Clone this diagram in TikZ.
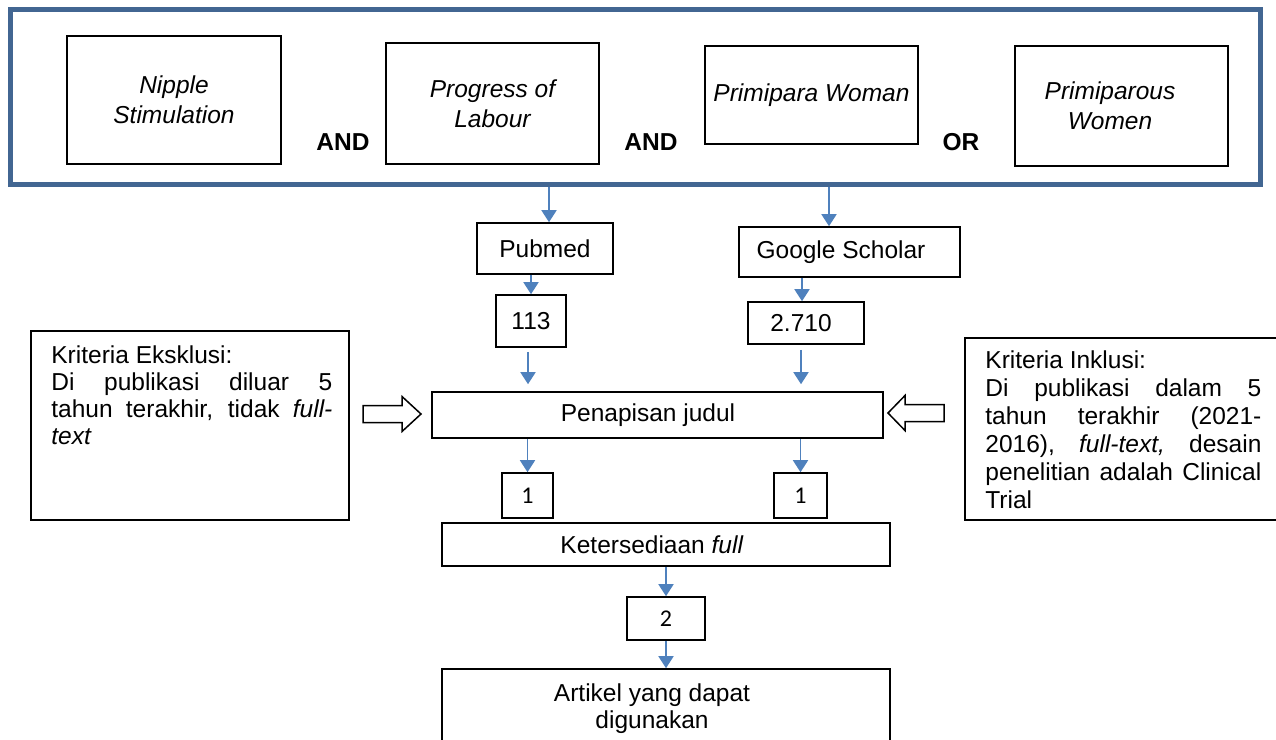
\documentclass[tikz,border=0pt]{standalone}
\usepackage{fontspec}
\setmainfont{Liberation Sans}
\newfontfamily\countfont{Carlito}
\usepackage{tikz}
\usetikzlibrary{positioning,arrows.meta,calc}
\definecolor{framecol}{RGB}{66,102,146}
\definecolor{flowcol}{RGB}{79,129,189}
\tolerance=10000

\begin{document}
\begin{tikzpicture}[x=1pt, y=-1pt, font=\fontsize{24.5}{29}\selectfont,
  box/.style={draw, line width=1.6pt, inner sep=0pt, align=center},
  keyword/.style={box, font=\fontsize{24.5}{30}\selectfont\itshape},
  count/.style={box, font=\countfont\fontsize{24}{28}\selectfont},
  logic/.style={font=\fontsize{24.5}{29}\selectfont\bfseries},
  criteria/.style={anchor=north west, inner sep=0pt, align=justify},
  flow/.style={draw=flowcol, line width=1.8pt, -{Triangle[length=12pt,width=15pt]}},
  blockarrow/.style={draw, line width=1.5pt, fill=white}]
\useasboundingbox (0,0) rectangle (1276,739);
\clip (0,0) rectangle (1276,739);
% search terms
\node[draw=framecol, line width=5pt, minimum width=1250pt, minimum height=175pt] (search) at (635,97) {};
\node[keyword, minimum width=214pt, minimum height=128pt] (nipple) at (174,100) {Nipple\\Stimulation};
\node[keyword, minimum width=213pt, minimum height=121pt] (labour) at (492.5,103.5) {Progress of\\Labour};
\node[keyword, minimum width=213pt, minimum height=98pt] (primipara) at (811.5,95) {Primipara Woman};
\node[keyword, minimum width=213pt, minimum height=120pt] (primiparous) at (1121.5,106) {Primiparous\hspace*{23pt}\\Women\hspace*{23pt}};
\node[logic] (andA) at (343,142) {AND};
\node[logic] (andB) at (651,142) {AND};
\node[logic] (orC) at (961,142) {OR};
% databases and hits
\node[box, minimum width=136pt, minimum height=51pt] (pubmed) at (545,248.5) {Pubmed};
\node[box, minimum width=221pt, minimum height=50pt] (scholar) at (849.5,252) {Google Scholar\hspace*{17pt}};
\node[box, minimum width=70pt, minimum height=52pt] (hitsA) at (531,321) {113};
\node[box, minimum width=116pt, minimum height=42pt] (hitsB) at (806,323) {2.710\hspace*{10pt}};
% screening steps
\node[box, minimum width=451pt, minimum height=46pt] (screen) at (657.5,415) {Penapisan judul\hspace*{19pt}};
\node[count, minimum width=51pt, minimum height=45pt] (keptA) at (527.5,495.5) {1};
\node[count, minimum width=53pt, minimum height=45pt] (keptB) at (800.5,495.5) {1};
\node[box, minimum width=448pt, minimum height=43pt] (fulltext) at (666,544.5) {Ketersediaan \textit{full}\hspace*{28pt}};
\node[count, minimum width=78pt, minimum height=43pt] (kept) at (666,618.5) {2};
\node[box, minimum width=448pt, minimum height=80pt, font=\fontsize{24.5}{27}\selectfont] (final) at (666,709) {Artikel yang dapat\hspace*{28pt}\\digunakan\hspace*{28pt}};
% criteria boxes
\node[box, minimum width=318pt, minimum height=189pt] (exclusion) at (190,425.5) {};
\node[criteria, text width=281pt, font=\fontsize{24.5}{27}\selectfont] (exclusionText)
  at ([shift={(21,15.5)}]exclusion.north west)
  {Kriteria Eksklusi:\\
   Di publikasi diluar 5\linebreak
   tahun terakhir, tidak \textit{full-}\linebreak
   \textit{text}};
\node[box, minimum width=325pt, minimum height=182pt] (inclusion) at (1127.5,429) {};
\node[criteria, text width=276pt, font=\fontsize{24.5}{28}\selectfont] (inclusionText)
  at ([shift={(21,13.5)}]inclusion.north west)
  {Kriteria Inklusi:\\
   Di publikasi dalam 5\linebreak
   tahun terakhir (2021-\linebreak
   2016), \textit{full-text,} desain\linebreak
   penelitian adalah Clinical\linebreak
   Trial};
% hollow arrows into the screening
\draw[blockarrow] (363,405.5) -- (402,405.5) -- (402,396.5) -- (421,414)
  -- (402,431.5) -- (402,422.5) -- (363,422.5) -- cycle;
\draw[blockarrow] (944,404.5) -- (905,404.5) -- (905,395.5) -- (888,413)
  -- (905,430.5) -- (905,421.5) -- (944,421.5) -- cycle;
% flow
\draw[flow] ([xshift=4pt]pubmed.north |- search.south) -- ([xshift=4pt]pubmed.north);
\draw[flow] ([xshift=-20.5pt]scholar.north |- search.south) -- ([xshift=-20.5pt]scholar.north);
\draw[flow] (hitsA.north |- pubmed.south) -- (hitsA.north);
\draw[flow] ([xshift=-4pt]hitsB.north |- scholar.south) -- ([xshift=-4pt]hitsB.north);
\draw[flow, shorten <=4pt, shorten >=7pt] ([xshift=-3pt]hitsA.south) -- ([xshift=-3pt]hitsA.south |- screen.north);
\draw[flow, shorten <=5pt, shorten >=7pt] ([xshift=-5pt]hitsB.south) -- ([xshift=-5pt]hitsB.south |- screen.north);
\draw[flow] (keptA.north |- screen.south) -- (keptA.north);
\draw[flow] (keptB.north |- screen.south) -- (keptB.north);
\draw[flow] (fulltext.south) -- (kept.north);
\draw[flow] (kept.south) -- (final.north);
\end{tikzpicture}
\end{document}
